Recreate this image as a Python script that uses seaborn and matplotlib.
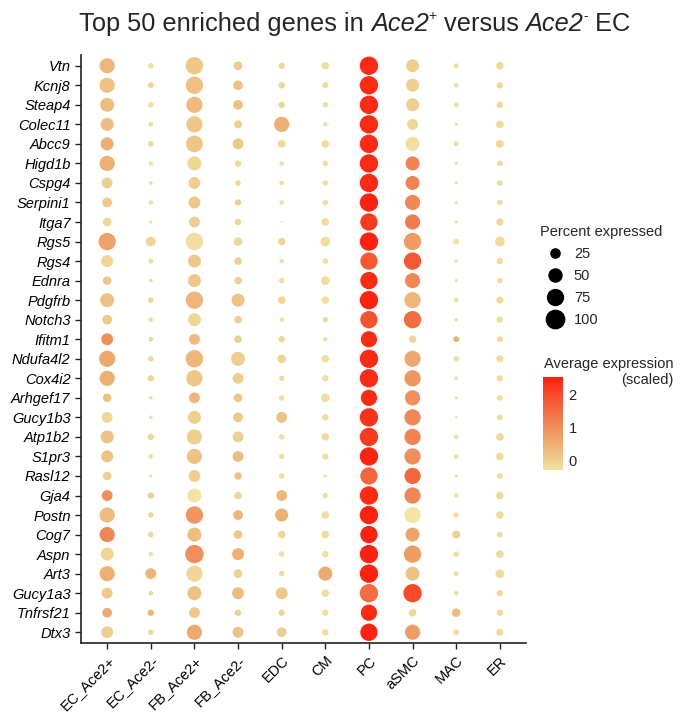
import numpy as np
import pandas as pd
import seaborn as sns
import matplotlib.pyplot as plt
from matplotlib.colors import LinearSegmentedColormap, Normalize
from matplotlib.cm import ScalarMappable
from matplotlib.lines import Line2D

# ---- data ----
genes = ["Vtn", "Kcnj8", "Steap4", "Colec11", "Abcc9", "Higd1b", "Cspg4", "Serpini1",
         "Itga7", "Rgs5", "Rgs4", "Ednra", "Pdgfrb", "Notch3", "Ifitm1", "Ndufa4l2",
         "Cox4i2", "Arhgef17", "Gucy1b3", "Atp1b2", "S1pr3", "Rasl12", "Gja4", "Postn",
         "Cog7", "Aspn", "Art3", "Gucy1a3", "Tnfrsf21", "Dtx3"]
cells = ["EC_Ace2+", "EC_Ace2-", "FB_Ace2+", "FB_Ace2-", "EDC", "CM", "PC", "aSMC", "MAC", "ER"]

# percent expressed, one list per cell type (gene order as above)
pct_ec_pos = [68, 68, 58, 50, 50, 68, 35, 28, 22, 89, 42, 22, 58, 28, 42, 78, 68, 22, 35, 50, 42, 22, 35, 68, 68, 50, 68, 35, 28, 42]
pct_ec_neg = [9, 10, 9, 7, 9, 6, 4, 6, 3, 28, 7, 4, 9, 6, 6, 9, 12, 4, 4, 12, 6, 3, 12, 9, 9, 6, 35, 6, 12, 9]
pct_fb_pos = [89, 89, 78, 78, 83, 58, 42, 42, 35, 89, 50, 50, 89, 50, 35, 89, 78, 35, 50, 68, 68, 42, 58, 89, 58, 100, 78, 58, 35, 68]
pct_fb_neg = [22, 28, 28, 19, 35, 12, 9, 12, 12, 22, 17, 17, 50, 17, 17, 58, 35, 22, 28, 35, 35, 17, 17, 28, 22, 42, 22, 42, 12, 35]
pct_edc = [12, 12, 12, 68, 17, 6, 6, 6, 1, 17, 6, 9, 17, 6, 12, 22, 9, 9, 35, 9, 9, 9, 35, 50, 17, 9, 9, 42, 12, 28]
pct_cm = [17, 12, 9, 6, 17, 9, 9, 9, 17, 28, 9, 22, 17, 9, 6, 17, 12, 22, 12, 17, 12, 3, 9, 17, 17, 12, 58, 17, 12, 12]
pct_pc = [100, 100, 100, 100, 100, 100, 100, 100, 89, 100, 89, 89, 100, 89, 78, 100, 100, 78, 100, 100, 100, 89, 100, 100, 89, 100, 100, 100, 78, 89]
pct_asmc = [50, 50, 50, 35, 58, 58, 58, 68, 68, 89, 89, 68, 78, 89, 17, 78, 78, 68, 78, 78, 78, 78, 78, 78, 58, 89, 58, 100, 17, 68]
pct_mac = [7, 6, 7, 3, 7, 3, 3, 3, 3, 10, 4, 3, 6, 4, 10, 9, 4, 3, 2, 6, 6, 3, 6, 9, 19, 9, 7, 6, 22, 10]
pct_er = [17, 12, 12, 17, 19, 9, 9, 9, 15, 28, 12, 9, 15, 12, 10, 15, 12, 9, 10, 17, 17, 10, 17, 17, 9, 17, 22, 12, 12, 15]

# average expression (scaled)
exp_ec_pos = [0.4, 0.2, 0.3, 0.3, 0.5, 0.5, 0.0, 0.1, -0.1, 0.7, -0.1, 0.1, 0.2, 0.1, 1.0, 0.6, 0.5, 0.2, -0.1, 0.2, 0.2, 0.0, 1.0, 0.3, 1.1, -0.1, 0.5, 0.1, 0.6, 0.0]
exp_ec_neg = [-0.2, -0.1, -0.2, -0.2, -0.1, -0.2, -0.2, -0.2, -0.2, -0.1, -0.2, -0.2, -0.1, -0.2, -0.1, -0.1, -0.1, -0.2, -0.2, -0.1, -0.2, -0.2, 0.0, -0.1, -0.1, -0.2, 0.4, -0.1, 0.4, -0.1]
exp_fb_pos = [0.1, 0.2, 0.3, 0.1, 0.15, -0.1, 0.0, 0.1, 0.0, -0.2, 0.1, 0.1, 0.4, -0.1, 0.3, 0.4, 0.1, 0.4, 0.0, 0.0, 0.2, 0.0, -0.3, 0.9, 0.3, 1.0, -0.1, 0.2, 0.1, 0.6]
exp_fb_neg = [0.1, 0.2, 0.2, 0.0, 0.1, -0.1, -0.1, 0.0, -0.1, -0.1, 0.0, 0.0, 0.2, 0.0, 0.0, 0.0, 0.0, 0.1, 0.1, 0.0, 0.3, 0.2, -0.1, 0.4, 0.1, 0.5, 0.0, 0.3, 0.0, 0.2]
exp_edc = [-0.1, -0.1, -0.1, 0.5, -0.1, -0.2, -0.2, -0.2, -0.3, -0.1, -0.2, -0.2, -0.1, -0.2, -0.1, -0.1, -0.2, -0.2, 0.2, -0.2, -0.2, -0.2, 0.4, 0.5, -0.1, -0.2, -0.2, 0.1, -0.1, 0.0]
exp_cm = [-0.2] * 26 + [0.6, -0.2, -0.2, -0.2]
exp_pc = [2.4, 2.4, 2.4, 2.4, 2.4, 2.4, 2.4, 2.5, 2.2, 2.5, 1.8, 2.4, 2.5, 1.9, 2.4, 2.4, 2.4, 2.4, 2.3, 2.2, 2.5, 1.6, 2.4, 2.5, 2.5, 2.5, 2.5, 1.5, 2.4, 2.5]
exp_asmc = [0.0, 0.0, 0.0, -0.1, -0.2, 1.2, 1.2, 1.1, 1.3, 0.8, 1.8, 1.1, 0.4, 1.5, -0.1, 0.6, 0.9, 1.0, 1.1, 1.2, 1.0, 1.6, 1.1, -0.3, 0.7, 0.8, 0.2, 2.0, -0.1, 0.8]
exp_mac = [-0.2] * 14 + [0.5] + [-0.2] * 9 + [0.0, -0.2, -0.2, -0.2, 0.3, -0.2]
exp_er = [-0.15] * 30

pct_cols = [pct_ec_pos, pct_ec_neg, pct_fb_pos, pct_fb_neg, pct_edc, pct_cm, pct_pc, pct_asmc, pct_mac, pct_er]
exp_cols = [exp_ec_pos, exp_ec_neg, exp_fb_pos, exp_fb_neg, exp_edc, exp_cm, exp_pc, exp_asmc, exp_mac, exp_er]

rows = []
for c, pc, ex in zip(cells, pct_cols, exp_cols):
    for g, p, e in zip(genes, pc, ex):
        rows.append({"cell": c, "gene": g, "pct": p, "expr": e})
df = pd.DataFrame(rows)

# ---- style ----
sns.set_style("ticks")
plt.rcParams["font.family"] = ["Liberation Sans", "DejaVu Sans"]

vmin, vmax = -0.3, 2.55
stops = [(-0.3, "#F3E4A2"), (0.0, "#EFCE8E"), (0.5, "#EEAF72"), (1.0, "#EF8F5B"),
         (1.5, "#F36D43"), (2.0, "#F94A2A"), (2.55, "#FF1E0C")]
cmap = LinearSegmentedColormap.from_list("expr", [((v - vmin) / (vmax - vmin), c) for v, c in stops])
norm = Normalize(vmin, vmax)
smax = 175

fig = plt.figure(figsize=(6.85, 7.15), dpi=100)
ax = fig.add_axes([81 / 685, 1 - 643 / 715, 445 / 685, 588 / 715])

sns.scatterplot(data=df, x="cell", y="gene", size="pct", sizes=(0, smax), size_norm=(0, 100),
                hue="expr", palette=cmap, hue_norm=norm, linewidth=0, legend=False, ax=ax)

ax.set_xlim(-0.6, len(cells) - 0.4)
ax.set_ylim(len(genes) - 0.45, -0.55)
ax.set_xlabel("")
ax.set_ylabel("")
sns.despine(ax=ax)
for s in ["left", "bottom"]:
    ax.spines[s].set_linewidth(1.2)
    ax.spines[s].set_color("#222222")
ax.tick_params(axis="both", length=4, width=1.0, color="#222222", labelsize=10.5, labelcolor="black")
for lab in ax.get_yticklabels():
    lab.set_fontstyle("italic")
plt.setp(ax.get_xticklabels(), rotation=45, ha="right", va="top", rotation_mode="anchor")

# title, built piece by piece (italic gene name + superscripts)
title_size = 18.3
pieces = [("Ace2", "italic", 0.0, 1.0),
          ("+", "normal", 0.5, 0.55),
          (" versus ", "normal", 0.0, 1.0),
          ("Ace2", "italic", 0.0, 1.0),
          ("-", "normal", 0.5, 0.55),
          (" EC", "normal", 0.0, 1.0)]
prev = fig.text(79 / 685, 1 - 31 / 715, "Top 50 enriched genes in ", fontsize=title_size,
                va="baseline", ha="left")
for txt, style, rise, scale in pieces:
    ann = ax.annotate(txt, xy=(1, 0), xycoords=prev, xytext=(0, rise * title_size),
                      textcoords="offset points", fontsize=title_size * scale, fontstyle=style,
                      va="bottom", ha="left", annotation_clip=False)
    if rise == 0:
        prev = ann
    else:
        # empty anchor back on the main baseline
        prev = ax.annotate("", xy=(1, 0), xycoords=ann, xytext=(0, -rise * title_size),
                           textcoords="offset points", fontsize=title_size, va="bottom", ha="left",
                           annotation_clip=False)

# size legend
legend_pct = [25, 50, 75, 100]
handles = [Line2D([], [], marker="o", linestyle="", color="black",
                  markersize=np.sqrt(smax * p / 100)) for p in legend_pct]
fig.legend(handles, [str(p) for p in legend_pct], title="Percent expressed",
           loc="upper left", bbox_to_anchor=(533 / 685, 1 - 218 / 715), frameon=False,
           fontsize=10.5, title_fontsize=10.5, labelspacing=0.55, handletextpad=0.3,
           alignment="left", borderpad=0)

# colour bar
fig.text(673 / 685, 1 - 357 / 715, "Average expression\n(scaled)", ha="right", va="top",
         multialignment="right", fontsize=10.5, linespacing=1.2)
cax = fig.add_axes([543 / 685, 1 - 470 / 715, 20 / 685, 93 / 715])
cb = fig.colorbar(ScalarMappable(norm=norm, cmap=cmap), cax=cax, ticks=[0, 1, 2])
cb.outline.set_visible(False)
cax.tick_params(left=True, right=True, direction="in", length=4, color="white", width=0.8,
                labelsize=10.5, pad=4)

fig.savefig("out.png", dpi=100, facecolor="white")
